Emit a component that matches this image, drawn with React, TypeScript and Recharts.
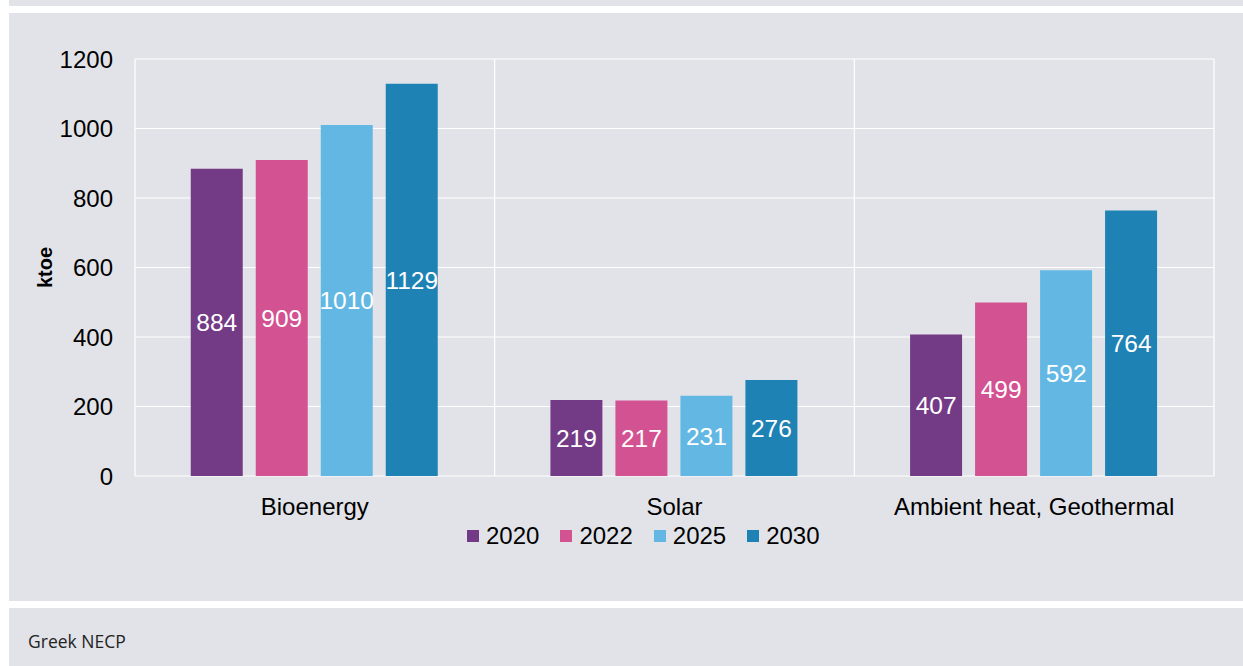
import { Bar, BarChart, CartesianGrid, LabelList, Legend, XAxis, YAxis } from "recharts";

const categories = ["Bioenergy", "Solar", "Ambient heat, Geothermal"];
const years = ["2020", "2022", "2025", "2030"];
const values2020 = [884, 219, 407];
const values2022 = [909, 217, 499];
const values2025 = [1010, 231, 592];
const values2030 = [1129, 276, 764];
const yTicks = [0, 200, 400, 600, 800, 1000, 1200];
const colors = ["#733b86", "#d35292", "#63b8e3", "#1f82b4"];

const seriesValues = [values2020, values2022, values2025, values2030];
const data = categories.map((name, i) => {
  const row: Record<string, string | number> = { name };
  years.forEach((y, k) => {
    row[y] = seriesValues[k][i];
  });
  return row;
});

const PANEL = "#e2e3e8";
const FONT = "'Liberation Sans', Arial, sans-serif";

function LegendContent() {
  return (
    <div style={{ display: "flex", alignItems: "center", height: 40, fontFamily: FONT }}>
      {years.map((y, k) => (
        <div key={y} style={{ display: "flex", alignItems: "center", marginRight: 21 }}>
          <span style={{ width: 12, height: 12, background: colors[k], display: "inline-block", marginRight: 7 }} />
          <span style={{ fontSize: 24, color: "#000" }}>{y}</span>
        </div>
      ))}
    </div>
  );
}

export default function App() {
  return (
    <div style={{ position: "absolute", left: 0, top: 0, width: 1243, height: 666, background: "#fff", overflow: "hidden" }}>
      <div style={{ position: "absolute", left: 9, top: 0, width: 1234, height: 6, background: PANEL }} />
      <div style={{ position: "absolute", left: 9, top: 13, width: 1234, height: 588, background: PANEL }}>
        <BarChart
          width={1234}
          height={588}
          data={data}
          margin={{ top: 46, right: 29, left: 26, bottom: 45 }}
          barCategoryGap="15.5%"
          barGap={13}
        >
          <CartesianGrid
            stroke="#ffffff"
            strokeWidth={1.2}
            verticalCoordinatesGenerator={({ offset }: any) =>
              [0, 1, 2, 3].map((i) => offset.left + (offset.width * i) / 3)
            }
          />
          <XAxis
            dataKey="name"
            axisLine={false}
            tickLine={false}
            height={40}
            tickMargin={16}
            tick={{ fontSize: 24, fill: "#000", fontFamily: FONT }}
          />
          <YAxis
            domain={[0, 1200]}
            ticks={yTicks}
            width={100}
            axisLine={false}
            tickLine={false}
            tickMargin={16}
            tick={{ fontSize: 24, fill: "#000", fontFamily: FONT }}
            label={{
              value: "ktoe",
              angle: -90,
              position: "insideLeft",
              textAnchor: "middle",
              offset: 10,
              style: { fontSize: 20, fontWeight: "bold", fill: "#000", fontFamily: FONT },
            }}
          />
          <Legend
            verticalAlign="bottom"
            height={40}
            content={<LegendContent />}
            wrapperStyle={{ left: 458, width: 400 }}
          />
          {years.map((y, k) => (
            <Bar key={y} dataKey={y} fill={colors[k]} isAnimationActive={false}>
              <LabelList
                dataKey={y}
                position="center"
                fill="#ffffff"
                style={{ fontSize: 24.5, fontFamily: FONT }}
              />
            </Bar>
          ))}
        </BarChart>
      </div>
      <div style={{ position: "absolute", left: 9, top: 608, width: 1234, height: 58, background: PANEL }}>
        <div
          style={{
            position: "absolute",
            left: 19,
            top: 21,
            fontSize: 17.5,
            color: "#222",
            fontFamily: "'Open Sans', 'Noto Sans', sans-serif",
          }}
        >
          Greek NECP
        </div>
      </div>
    </div>
  );
}
